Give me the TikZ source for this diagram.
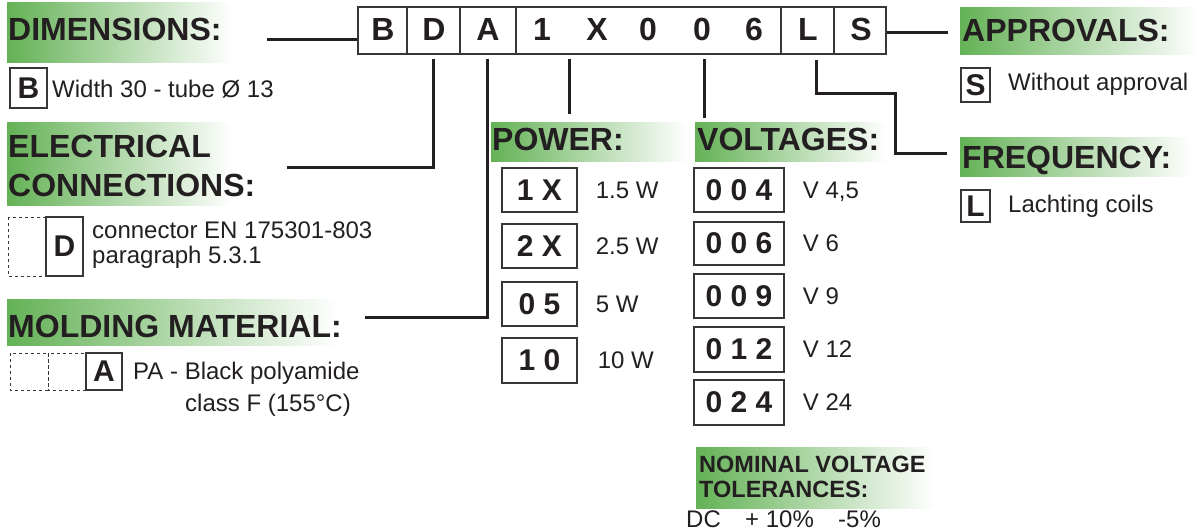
\documentclass[tikz,border=0pt]{standalone}
\usepackage{fontspec}
\setmainfont{Liberation Sans}
\definecolor{grn}{RGB}{100,178,86}
\definecolor{ink}{RGB}{35,31,32}
\definecolor{boxc}{RGB}{55,55,55}
\tikzset{
  band/.style={left color=grn, right color=white, draw=none},
  hdr/.style={anchor=base west, inner sep=0, text=ink, font=\bfseries\fontsize{32}{35}\selectfont},
  hdrs/.style={anchor=base west, inner sep=0, text=ink, font=\bfseries\fontsize{23.5}{26}\selectfont},
  body/.style={anchor=base west, inner sep=0, text=ink, font=\fontsize{24}{27}\selectfont},
  topbox/.style={draw=boxc, line width=1.6pt, minimum height=47pt, inner sep=0},
  toplet/.style={inner sep=0, text=ink, font=\bfseries\fontsize{32}{32}\selectfont},
  smallbox/.style={draw=boxc, line width=1.3pt, inner sep=0, text=ink, font=\bfseries\fontsize{30}{30}\selectfont},
  dashbox/.style={draw=boxc, line width=1pt, dashed},
  conn/.style={draw=ink, line width=3pt},
}
\begin{document}
\begin{tikzpicture}[x=1pt,y=-1pt]
\useasboundingbox (0,0) rectangle (1199,531);
% bands
\fill[band] (7,2) rectangle (233,62);
\fill[band] (7,122) rectangle (233,205);
\fill[band] (7,299) rectangle (338,345);
\fill[band] (491,122) rectangle (688,161);
\fill[band] (695,122) rectangle (887,161);
\fill[band] (960,7) rectangle (1199,54);
\fill[band] (960,137) rectangle (1192,176);
\fill[band] (696,447) rectangle (935,508);
% headers
\node[hdr] (hDim) at (8,40) {DIMENSIONS:};
\node[hdr] (hEl1) at (8,157) {ELECTRICAL};
\node[hdr] (hEl2) at (8,196) {CONNECTIONS:};
\node[hdr] (hMold) at (8,337) {MOLDING MATERIAL:};
\node[hdr] (hPow) at (492,150) {POWER:};
\node[hdr] (hVolt) at (697,150) {VOLTAGES:};
\node[hdr] (hAppr) at (962,41) {APPROVALS:};
\node[hdr] (hFreq) at (962,168) {FREQUENCY:};
\node[hdrs] (hNom1) at (699,472) {NOMINAL VOLTAGE};
\node[hdrs] (hNom2) at (699,497) {TOLERANCES:};
\node[body] (dc1) at (686,527) {DC};
\node[body] (dc2) at (745,527) {+ 10\%};
\node[body] (dc3) at (838,527) {-5\%};
% top code boxes
\node[topbox, minimum width=49pt] (cB) at (382.5,30.5) {};
\node[topbox, minimum width=53pt] (cD) at (433.5,30.5) {};
\node[topbox, minimum width=56pt] (cA) at (488,30.5) {};
\node[topbox, minimum width=265pt] (cNum) at (648.5,30.5) {};
\node[topbox, minimum width=53pt] (cL) at (807.5,30.5) {};
\node[topbox, minimum width=52pt] (cS) at (860,30.5) {};
\node[toplet] (tB) at (383,29) {B};
\node[toplet] (tD) at (434,29) {D};
\node[toplet] (tA) at (488,29) {A};
\node[toplet] (t1) at (542,29) {1};
\node[toplet] (tX) at (597,29) {X};
\node[toplet] (t0a) at (648,29) {0};
\node[toplet] (t0b) at (702,29) {0};
\node[toplet] (t6) at (754,29) {6};
\node[toplet] (tL) at (808,29) {L};
\node[toplet] (tS) at (861,29) {S};
% connector end points
\coordinate (dimEnd) at (267,39);
\coordinate (apprEnd) at (948,32);
\coordinate (elecEnd) at (287,167);
\coordinate (moldEnd) at (365,317);
\coordinate (powEnd) at (569,114);
\coordinate (voltEnd) at (704,118);
\coordinate (freqA) at (816,93);
\coordinate (freqK) at (895,93);
\coordinate (freqEnd) at (947,153);
% connectors
\draw[conn] (dimEnd) -- (dimEnd -| cB.west);
\draw[conn] (apprEnd -| cS.east) -- (apprEnd);
\draw[conn] (cD.south) ++(0,4) |- (elecEnd);
\draw[conn] (cA.south) ++(-1,4) |- (moldEnd);
\draw[conn] (powEnd |- cNum.south) ++(0,4) -- (powEnd);
\draw[conn] (voltEnd |- cNum.south) ++(0,4) -- (voltEnd);
\draw[conn] (freqA |- cL.south) ++(0,5) |- (freqK) |- (freqEnd);
% dimensions detail
\node[smallbox, minimum width=37pt, minimum height=40pt] (sB) at (28.5,88) {B};
\node[body] (lB) at (52,97) {Width 30 - tube Ø 13};
% electrical detail
\draw[dashbox] (8,217) rectangle (46,276);
\node[smallbox, minimum width=37pt, minimum height=59pt] (sD) at (64.5,246.5) {D};
\node[body] (lD1) at (92,238) {connector EN 175301-803};
\node[body] (lD2) at (92,263) {paragraph 5.3.1};
% molding detail
\draw[dashbox] (10,353) rectangle (48,390);
\draw[dashbox] (48,353) rectangle (86,390);
\node[smallbox, minimum width=36pt, minimum height=37pt] (sA) at (104,371.5) {A};
\node[body] (lA1) at (133,379) {PA - Black polyamide};
\node[body] (lA2) at (185,411) {class F (155°C)};
% approvals / frequency detail
\node[smallbox, minimum width=29pt, minimum height=34pt] (sS) at (975.5,85) {S};
\node[body] (lS) at (1008,90) {Without approval};
\node[smallbox, minimum width=29pt, minimum height=32pt] (sL) at (975.5,206) {L};
\node[body] (lL) at (1008,212) {Lachting coils};
% power boxes
\node[smallbox, minimum width=75pt, minimum height=44pt] (p1) at (539.5,190) {1 X};
\node[smallbox, minimum width=75pt, minimum height=44pt] (p2) at (539.5,246) {2 X};
\node[smallbox, minimum width=75pt, minimum height=44pt] (p3) at (539.5,304) {0 5};
\node[smallbox, minimum width=75pt, minimum height=45pt] (p4) at (539.5,360.5) {1 0};
\node[body] (lp1) at ([xshift=18pt,yshift=-8pt]p1.east) {1.5 W};
\node[body] (lp2) at ([xshift=18pt,yshift=-8pt]p2.east) {2.5 W};
\node[body] (lp3) at ([xshift=18pt,yshift=-8pt]p3.east) {5 W};
\node[body] (lp4) at ([xshift=20pt,yshift=-8pt]p4.east) {10 W};
% voltage boxes
\node[smallbox, minimum width=90pt, minimum height=44pt] (v1) at (739,190) {0 0 4};
\node[smallbox, minimum width=90pt, minimum height=43pt] (v2) at (739,243.5) {0 0 6};
\node[smallbox, minimum width=90pt, minimum height=44pt] (v3) at (739,296) {0 0 9};
\node[smallbox, minimum width=90pt, minimum height=45pt] (v4) at (739,349.5) {0 1 2};
\node[smallbox, minimum width=90pt, minimum height=45pt] (v5) at (739,402.5) {0 2 4};
\node[body] (lv1) at ([xshift=18pt,yshift=-8pt]v1.east) {V 4,5};
\node[body] (lv2) at ([xshift=18pt,yshift=-8pt]v2.east) {V 6};
\node[body] (lv3) at ([xshift=18pt,yshift=-8pt]v3.east) {V 9};
\node[body] (lv4) at ([xshift=18pt,yshift=-8pt]v4.east) {V 12};
\node[body] (lv5) at ([xshift=18pt,yshift=-8pt]v5.east) {V 24};
\end{tikzpicture}
\end{document}
